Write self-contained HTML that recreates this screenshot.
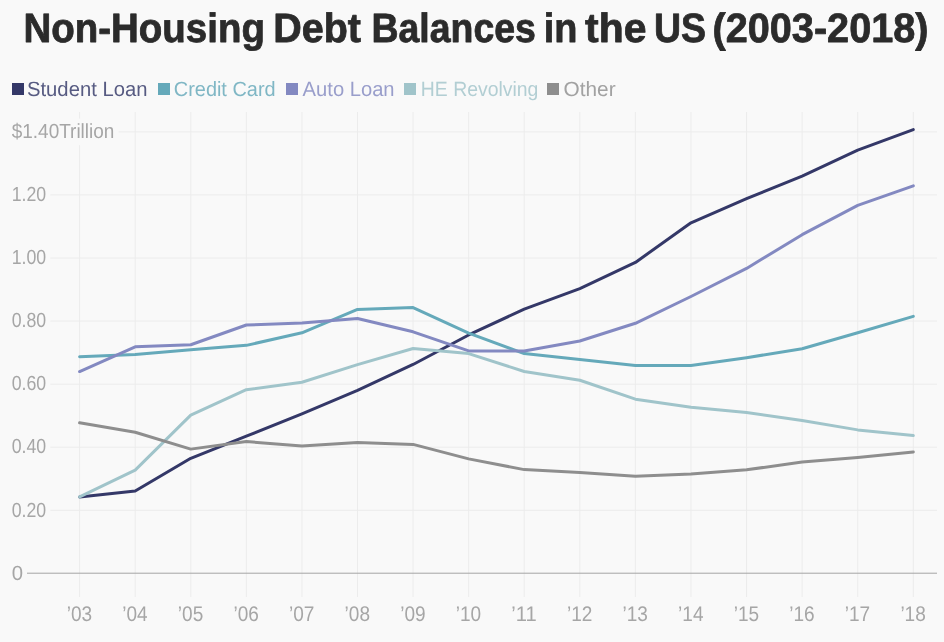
<!DOCTYPE html>
<html><head><meta charset="utf-8"><title>Non-Housing Debt Balances in the US (2003-2018)</title>
<style>
html,body{margin:0;padding:0;background:#f9f9f9;}
body{width:944px;height:642px;overflow:hidden;}
svg{display:block;}
text{font-family:"Liberation Sans",sans-serif;text-rendering:geometricPrecision;}
.t{font-weight:bold;font-size:41px;fill:#2b2b2b;stroke:#2b2b2b;stroke-width:0.8px;stroke-linejoin:round;}
.lg{font-size:20.6px;}
.ax{font-size:20.5px;fill:#a6a6a6;}
</style></head><body>
<svg width="944" height="642" viewBox="0 0 944 642" xmlns="http://www.w3.org/2000/svg">
<rect width="944" height="642" fill="#f9f9f9"/>
<text class="t" y="41.5"><tspan x="23.4" textLength="241.6" lengthAdjust="spacingAndGlyphs">Non-Housing</tspan> <tspan x="273.3" textLength="87.7" lengthAdjust="spacingAndGlyphs">Debt</tspan> <tspan x="371.5" textLength="164.4" lengthAdjust="spacingAndGlyphs">Balances</tspan> <tspan x="543.8" textLength="33.7" lengthAdjust="spacingAndGlyphs">in</tspan> <tspan x="585.0" textLength="61.4" lengthAdjust="spacingAndGlyphs">the</tspan> <tspan x="654.0" textLength="52.0" lengthAdjust="spacingAndGlyphs">US</tspan> <tspan x="712.5" textLength="216.0" lengthAdjust="spacingAndGlyphs">(2003-2018)</tspan> </text>
<rect x="12.0" y="83" width="12" height="12" fill="#343868"/><text class="lg" x="27.0" y="95.9" fill="#575b82" textLength="120.4" lengthAdjust="spacingAndGlyphs">Student Loan</text>
<rect x="158.0" y="83" width="12" height="12" fill="#65a9ba"/><text class="lg" x="173.8" y="95.9" fill="#80b7c5" textLength="101.8" lengthAdjust="spacingAndGlyphs">Credit Card</text>
<rect x="286.0" y="83" width="12" height="12" fill="#8389c1"/><text class="lg" x="302.6" y="95.9" fill="#999ecb" textLength="92.0" lengthAdjust="spacingAndGlyphs">Auto Loan</text>
<rect x="404.0" y="83" width="12" height="12" fill="#a0c4ca"/><text class="lg" x="420.8" y="95.9" fill="#b2ced3" textLength="117.6" lengthAdjust="spacingAndGlyphs">HE Revolving</text>
<rect x="547.0" y="83" width="12" height="12" fill="#8e8e8e"/><text class="lg" x="563.6" y="95.9" fill="#a2a2a2" textLength="52.0" lengthAdjust="spacingAndGlyphs">Other</text>
<line x1="79.60" x2="79.60" y1="112" y2="597" stroke="#ececec" stroke-width="1"/><line x1="135.18" x2="135.18" y1="112" y2="597" stroke="#ececec" stroke-width="1"/><line x1="190.76" x2="190.76" y1="112" y2="597" stroke="#ececec" stroke-width="1"/><line x1="246.34" x2="246.34" y1="112" y2="597" stroke="#ececec" stroke-width="1"/><line x1="301.92" x2="301.92" y1="112" y2="597" stroke="#ececec" stroke-width="1"/><line x1="357.50" x2="357.50" y1="112" y2="597" stroke="#ececec" stroke-width="1"/><line x1="413.08" x2="413.08" y1="112" y2="597" stroke="#ececec" stroke-width="1"/><line x1="468.66" x2="468.66" y1="112" y2="597" stroke="#ececec" stroke-width="1"/><line x1="524.24" x2="524.24" y1="112" y2="597" stroke="#ececec" stroke-width="1"/><line x1="579.82" x2="579.82" y1="112" y2="597" stroke="#ececec" stroke-width="1"/><line x1="635.40" x2="635.40" y1="112" y2="597" stroke="#ececec" stroke-width="1"/><line x1="690.98" x2="690.98" y1="112" y2="597" stroke="#ececec" stroke-width="1"/><line x1="746.56" x2="746.56" y1="112" y2="597" stroke="#ececec" stroke-width="1"/><line x1="802.14" x2="802.14" y1="112" y2="597" stroke="#ececec" stroke-width="1"/><line x1="857.72" x2="857.72" y1="112" y2="597" stroke="#ececec" stroke-width="1"/><line x1="913.30" x2="913.30" y1="112" y2="597" stroke="#ececec" stroke-width="1"/>
<line x1="118.4" x2="937" y1="131.88" y2="131.88" stroke="#ececec" stroke-width="1"/><rect x="0" y="118.63" width="118.4" height="26.5" fill="#f9f9f9"/><text class="ax" x="11.7" y="138.08" textLength="102.7" lengthAdjust="spacingAndGlyphs">$1.40Trillion</text>
<line x1="50.2" x2="937" y1="194.95" y2="194.95" stroke="#ececec" stroke-width="1"/><rect x="0" y="181.70" width="50.2" height="26.5" fill="#f9f9f9"/><text class="ax" x="11.7" y="201.15" textLength="34.5" lengthAdjust="spacingAndGlyphs">1.20</text>
<line x1="50.2" x2="937" y1="258.02" y2="258.02" stroke="#ececec" stroke-width="1"/><rect x="0" y="244.77" width="50.2" height="26.5" fill="#f9f9f9"/><text class="ax" x="11.7" y="264.22" textLength="34.5" lengthAdjust="spacingAndGlyphs">1.00</text>
<line x1="50.2" x2="937" y1="321.09" y2="321.09" stroke="#ececec" stroke-width="1"/><rect x="0" y="307.84" width="50.2" height="26.5" fill="#f9f9f9"/><text class="ax" x="11.7" y="327.29" textLength="34.5" lengthAdjust="spacingAndGlyphs">0.80</text>
<line x1="50.2" x2="937" y1="384.16" y2="384.16" stroke="#ececec" stroke-width="1"/><rect x="0" y="370.91" width="50.2" height="26.5" fill="#f9f9f9"/><text class="ax" x="11.7" y="390.36" textLength="34.5" lengthAdjust="spacingAndGlyphs">0.60</text>
<line x1="50.2" x2="937" y1="447.23" y2="447.23" stroke="#ececec" stroke-width="1"/><rect x="0" y="433.98" width="50.2" height="26.5" fill="#f9f9f9"/><text class="ax" x="11.7" y="453.43" textLength="34.5" lengthAdjust="spacingAndGlyphs">0.40</text>
<line x1="50.2" x2="937" y1="510.30" y2="510.30" stroke="#ececec" stroke-width="1"/><rect x="0" y="497.05" width="50.2" height="26.5" fill="#f9f9f9"/><text class="ax" x="11.7" y="516.50" textLength="34.5" lengthAdjust="spacingAndGlyphs">0.20</text>
<line x1="27.0" x2="937" y1="573.2" y2="573.2" stroke="#a4a4a4" stroke-width="1"/><rect x="0" y="560.12" width="27.0" height="26.5" fill="#f9f9f9"/><text class="ax" x="11.7" y="579.57" textLength="11.3" lengthAdjust="spacingAndGlyphs">0</text>
<text class="ax" style="font-size:21.2px" x="66.70" y="620.9" textLength="25.4" lengthAdjust="spacingAndGlyphs">’03</text><text class="ax" style="font-size:21.2px" x="122.28" y="620.9" textLength="25.4" lengthAdjust="spacingAndGlyphs">’04</text><text class="ax" style="font-size:21.2px" x="177.86" y="620.9" textLength="25.4" lengthAdjust="spacingAndGlyphs">’05</text><text class="ax" style="font-size:21.2px" x="233.44" y="620.9" textLength="25.4" lengthAdjust="spacingAndGlyphs">’06</text><text class="ax" style="font-size:21.2px" x="289.02" y="620.9" textLength="25.4" lengthAdjust="spacingAndGlyphs">’07</text><text class="ax" style="font-size:21.2px" x="344.60" y="620.9" textLength="25.4" lengthAdjust="spacingAndGlyphs">’08</text><text class="ax" style="font-size:21.2px" x="400.18" y="620.9" textLength="25.4" lengthAdjust="spacingAndGlyphs">’09</text><text class="ax" style="font-size:21.2px" x="455.76" y="620.9" textLength="25.4" lengthAdjust="spacingAndGlyphs">’10</text><text class="ax" style="font-size:21.2px" x="511.34" y="620.9" textLength="25.4" lengthAdjust="spacingAndGlyphs">’11</text><text class="ax" style="font-size:21.2px" x="566.92" y="620.9" textLength="25.4" lengthAdjust="spacingAndGlyphs">’12</text><text class="ax" style="font-size:21.2px" x="622.50" y="620.9" textLength="25.4" lengthAdjust="spacingAndGlyphs">’13</text><text class="ax" style="font-size:21.2px" x="678.08" y="620.9" textLength="25.4" lengthAdjust="spacingAndGlyphs">’14</text><text class="ax" style="font-size:21.2px" x="733.66" y="620.9" textLength="25.4" lengthAdjust="spacingAndGlyphs">’15</text><text class="ax" style="font-size:21.2px" x="789.24" y="620.9" textLength="25.4" lengthAdjust="spacingAndGlyphs">’16</text><text class="ax" style="font-size:21.2px" x="844.82" y="620.9" textLength="25.4" lengthAdjust="spacingAndGlyphs">’17</text><text class="ax" style="font-size:21.2px" x="900.40" y="620.9" textLength="25.4" lengthAdjust="spacingAndGlyphs">’18</text>
<polyline fill="none" stroke="#343868" stroke-width="3" stroke-linejoin="round" stroke-linecap="round" points="79.60,496.93 135.18,491.06 190.76,458.27 246.34,436.19 301.92,413.80 357.50,390.47 413.08,364.48 468.66,334.97 524.24,309.11 579.82,288.61 635.40,262.43 690.98,222.83 746.56,198.73 802.14,176.03 857.72,150.04 913.30,129.67"/>
<polyline fill="none" stroke="#65a9ba" stroke-width="3" stroke-linejoin="round" stroke-linecap="round" points="79.60,356.72 135.18,354.52 190.76,349.79 246.34,345.37 301.92,332.76 357.50,309.42 413.08,307.53 468.66,333.07 524.24,353.57 579.82,359.56 635.40,365.55 690.98,365.55 746.56,357.67 802.14,348.71 857.72,332.76 913.30,316.36"/>
<polyline fill="none" stroke="#8389c1" stroke-width="3" stroke-linejoin="round" stroke-linecap="round" points="79.60,371.55 135.18,346.79 190.76,344.74 246.34,325.03 301.92,322.98 357.50,318.57 413.08,331.81 468.66,350.89 524.24,351.05 579.82,340.96 635.40,323.30 690.98,296.49 746.56,268.43 802.14,234.68 857.72,205.36 913.30,185.80"/>
<polyline fill="none" stroke="#a0c4ca" stroke-width="3" stroke-linejoin="round" stroke-linecap="round" points="79.60,496.93 135.18,470.06 190.76,415.19 246.34,389.71 301.92,382.27 357.50,364.61 413.08,348.53 468.66,353.57 524.24,371.55 579.82,380.25 635.40,399.17 690.98,407.18 746.56,412.54 802.14,420.43 857.72,429.89 913.30,435.56"/>
<polyline fill="none" stroke="#8e8e8e" stroke-width="3" stroke-linejoin="round" stroke-linecap="round" points="79.60,422.76 135.18,432.22 190.76,449.12 246.34,441.55 301.92,445.97 357.50,442.50 413.08,444.39 468.66,458.90 524.24,469.62 579.82,472.46 635.40,476.37 690.98,474.03 746.56,469.81 802.14,462.05 857.72,457.45 913.30,451.96"/>
</svg>
</body></html>
